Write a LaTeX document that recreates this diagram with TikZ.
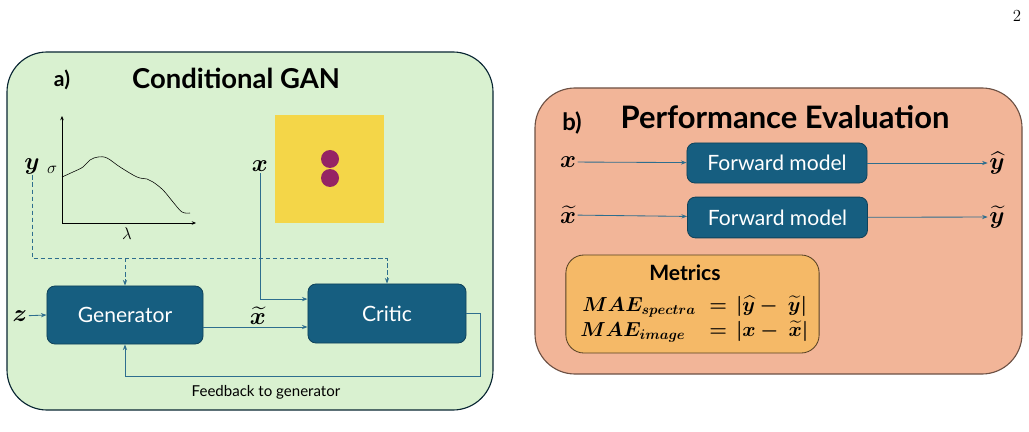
\documentclass[tikz,border=0pt]{standalone}
\usepackage{amsmath,bm}
\usepackage{fontspec}
\setsansfont{Lato}
\usetikzlibrary{arrows.meta, positioning}

\definecolor{ganpanel}{RGB}{217,241,208}
\definecolor{evalpanel}{RGB}{242,181,152}
\definecolor{metricfill}{RGB}{245,185,103}
\definecolor{blockblue}{RGB}{22,94,128}
\definecolor{linkblue}{RGB}{46,110,142}
\definecolor{imgyellow}{RGB}{244,214,72}
\definecolor{dotpurple}{RGB}{149,36,100}

\begin{document}
\begin{tikzpicture}[x=0.025cm, y=-0.025cm, font=\sffamily,
    panel/.style={line width=0.8pt, rounded corners=1cm},
    block/.style={draw=blockblue!70!black, fill=blockblue, text=white, rounded corners=0.2cm, line width=0.6pt,
        font=\sffamily\fontsize{15}{18}\selectfont},
    link/.style={draw=linkblue, line width=0.6pt, -{Stealth[length=4pt, width=3pt]}},
    cond/.style={link, dashed, dash pattern=on 3pt off 2pt},
    mathlab/.style={font=\fontsize{16}{18}\selectfont, inner sep=1pt},
    eqrow/.style={font=\fontsize{14}{16}\selectfont, inner sep=0pt}]

\useasboundingbox (0,0) rectangle (1029,432);

\node (pagenum) at (1017,16) {\rmfamily\fontsize{12}{14}\selectfont 2};

% a) conditional GAN
\draw [panel, draw=black!60!blockblue, fill=ganpanel] (7,52) rectangle (493,410);
\node (atag) at (62,80) {\fontsize{15}{18}\selectfont\bfseries a)};
\node (atitle) at (236,78) {\fontsize{19.5}{22}\selectfont\bfseries Conditional GAN};

% spectrum sketch
\draw [-{Stealth[length=3pt, width=2.5pt]}] (62,223) -- (62,116);
\draw [-{Stealth[length=3pt, width=2.5pt]}] (62,223) -- (196,223);
\draw plot [smooth, tension=0.6] coordinates {(62,177) (73,172) (83,167) (90,160) (98,157) (107,158) (120,167) (137,177) (147,179) (153,182) (163,190) (173,202) (182,212) (190,213)};
\node (sigma) at (52,170) {\fontsize{12}{14}\selectfont$\sigma$};
\node (lambda) at (127,234) {\fontsize{12}{14}\selectfont$\lambda$};

% geometry image
\fill [imgyellow] (275,115) rectangle (384,223);
\fill [dotpurple] (330,159) circle (9);
\fill [dotpurple] (330,178) circle (9);

\node [mathlab] (ylab) at (32,166) {$\bm{y}$};
\node [mathlab] (xlab) at (260,166) {$\bm{x}$};
\node [mathlab] (zlab) at (20,316) {$\bm{z}$};

\node [block, minimum width=3.9cm, minimum height=1.45cm] (gen) at (125,315) {Generator};
\node [block, minimum width=3.95cm, minimum height=1.475cm] (crit) at (387,313.5) {Critic};

\coordinate (split) at (32,258);
\draw [cond] (ylab.south) |- (gen.north |- split) -- (gen.north);
\draw [cond] (ylab.south) |- (crit.north |- split) -- (crit.north);

\draw [link] (xlab.south) |- ([yshift=0.36cm]crit.west);
\draw [link] (zlab) -- (gen.west);
\draw [link] ([yshift=-0.3cm]gen.east) -- ([yshift=-0.3cm]gen.east -| crit.west);
\node [mathlab] (xtlab) at (258,316) {$\widetilde{\bm{x}}$};

\coordinate (fb) at (480,376);
\draw [link] (crit.east) -| (fb) -| (gen.south);
\node (fblab) at (266,392) {\fontsize{10.7}{12}\selectfont Feedback to generator};

% b) performance evaluation
\draw [panel, draw=evalpanel!45!black, fill=evalpanel] (535,88) rectangle (1022,374);
\node (btag) at (572,123) {\fontsize{17}{20}\selectfont\bfseries b)};
\node (btitle) at (785,117) {\fontsize{22}{26}\selectfont\bfseries Performance Evaluation};

\node [block, minimum width=4.5cm, minimum height=1cm] (fwda) at (777,163) {Forward model};
\node [block, minimum width=4.5cm, minimum height=1.02cm] (fwdb) at (777.5,217.5) {Forward model};

\node [mathlab] (xb) at (568,162) {$\bm{x}$};
\node [mathlab] (xtb) at (568,215) {$\widetilde{\bm{x}}$};
\node [mathlab] (yhat) at (997,163) {$\widehat{\bm{y}}$};
\node [mathlab] (ytil) at (997,217) {$\widetilde{\bm{y}}$};

\draw [link] (xb) -- (fwda);
\draw [link] (fwda) -- (yhat);
\draw [link] (xtb) -- (fwdb);
\draw [link] (fwdb) -- (ytil);

\node [draw=metricfill!35!black, fill=metricfill, rounded corners=0.45cm, line width=0.6pt,
    minimum width=6.33cm, minimum height=2.45cm] (metrics) at (692.5,304) {};
\node [inner sep=1pt] (mtitle) at (685,273) {\fontsize{15}{17}\selectfont\bfseries Metrics};

% metric rows, split at the equals sign
\node [eqrow, anchor=base west] (maespec) at (582,311) {$\bm{MAE_{spectra}}$};
\node [eqrow, anchor=base west] (maeimg) at (580,336) {$\bm{MAE_{image}}$};
\node [eqrow, anchor=base west] (eqspec) at (709,311) {$\bm{=\,|\widehat{y}-\;\widetilde{y}|}$};
\node [eqrow, anchor=base west] (eqimg) at (709,336) {$\bm{=\,|x-\;\widetilde{x}|}$};

\end{tikzpicture}
\end{document}
